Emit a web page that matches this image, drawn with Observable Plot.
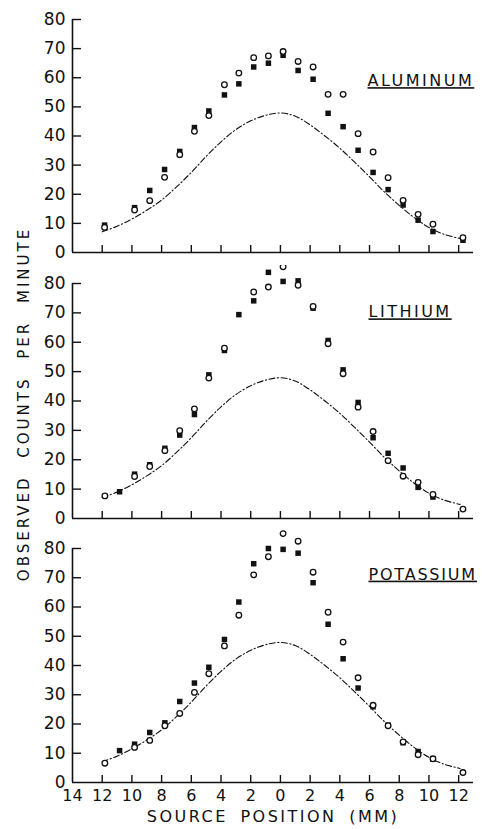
<!DOCTYPE html>
<html>
<head>
<meta charset="utf-8">
<script src="https://cdn.jsdelivr.net/npm/d3@7"></script>
<script src="https://cdn.jsdelivr.net/npm/@observablehq/plot@0.6"></script>
<style>
html, body { margin: 0; padding: 0; background: #fff; }
#wrap { position: relative; width: 482px; height: 829px; overflow: hidden; }
#wrap svg { display: block; }
#ytitle {
  position: absolute; left: 24px; top: 404px;
  transform: translate(-50%, -50%) rotate(-90deg);
  white-space: nowrap; font-family: "DejaVu Sans", sans-serif; font-size: 15px;
  letter-spacing: 3px; word-spacing: 10px; color: #111;
}
</style>
</head>
<body>
<div id="wrap"><div id="ytitle">OBSERVED COUNTS PER MINUTE</div></div>
<script>
// ---- data ----
const xTicks = [-14, -12, -10, -8, -6, -4, -2, 0, 2, 4, 6, 8, 10, 12];
const yTicks = [0, 10, 20, 30, 40, 50, 60, 70, 80];
const panelNames = ["ALUMINUM", "LITHIUM", "POTASSIUM"];
const xTitle = "SOURCE POSITION (MM)";

// dash-dot reference curve (same in all panels)
const curveX = [-12.0, -11, -10, -9, -8, -7, -6, -5, -4, -3, -2, -1, 0, 1, 2, 3, 4, 5, 6, 7, 8, 9, 10, 11, 12.1];
const curveY = [7.1, 9.0, 11.5, 14.5, 18.0, 22.5, 27.5, 33.0, 38.0, 42.2, 45.2, 47.1, 47.9, 46.8, 43.8, 40.0, 35.8, 31.0, 26.0, 20.8, 16.2, 12.0, 8.6, 6.3, 4.8];

// Aluminum
const alPos = [-11.84, -9.82, -8.8, -7.8, -6.78, -5.79, -4.82, -3.77, -2.8, -1.8, -0.81, 0.18, 1.19, 2.2, 3.21, 4.22, 5.23, 6.24, 7.25, 8.26, 9.27, 10.27, 12.29];
const alSquares = [9.4, 15.4, 21.3, 28.5, 34.7, 42.9, 48.6, 54.1, 57.9, 63.7, 65.0, 67.7, 62.5, 59.5, 47.8, 43.2, 35.1, 27.5, 21.6, 16.3, 11.1, 7.2, 4.2];
const alCircles = [8.6, 14.6, 17.8, 25.8, 33.6, 41.6, 47.0, 57.6, 61.6, 66.9, 67.5, 69.0, 65.6, 63.7, 54.3, 54.3, 40.8, 34.5, 25.7, 17.9, 13.1, 9.7, 5.1];

// Lithium
const liPos = [-11.82, -10.83, -9.82, -8.8, -7.78, -6.78, -5.79, -4.82, -3.77, -2.8, -1.8, -0.81, 0.18, 1.19, 2.2, 3.21, 4.22, 5.23, 6.24, 7.25, 8.26, 9.27, 10.27, 12.29];
const liSquares = [null, 9.1, 15.1, 18.3, 23.9, 28.4, 35.4, 48.9, 57.2, 69.4, 74.1, 83.8, 80.7, 80.9, 71.6, 60.6, 50.6, 39.5, 27.5, 22.2, 17.2, 10.6, 7.3, null];
const liCircles = [7.7, null, 14.3, 17.7, 23.1, 29.9, 37.3, 47.8, 58.0, null, 77.1, 78.8, 85.7, 79.4, 72.2, 59.5, 49.3, 37.9, 29.6, 19.7, 14.4, 12.3, 8.2, 3.2];

// Potassium
const kPos = [-11.82, -10.83, -9.82, -8.8, -7.78, -6.78, -5.79, -4.82, -3.77, -2.8, -1.8, -0.81, 0.18, 1.19, 2.2, 3.21, 4.22, 5.23, 6.24, 7.25, 8.26, 9.27, 10.27, 12.29];
const kSquares = [null, 10.9, 13.1, 17.1, 20.4, 27.7, 34.0, 39.4, 48.9, 61.7, 74.8, 80.0, 79.7, 78.4, 68.3, 54.1, 42.3, 32.3, 25.9, 19.6, 13.6, 10.6, 8.0, null];
const kCircles = [6.6, null, 12.0, 14.4, 19.4, 23.6, 30.8, 37.2, 46.7, 57.2, 71.0, 77.2, 85.1, 82.5, 71.9, 58.2, 48.0, 35.8, 26.4, 19.4, 13.9, 9.5, 8.1, 3.4];

// ---- drawing ----
const ink = "#111";
const curveRows = curveX.map((x, i) => ({x, y: curveY[i]}));
const rows = (pos, vals) => pos.map((x, i) => ({x, y: vals[i]})).filter(d => d.y != null);

function panel(name, pos, sq, ci, o) {
  const marks = [
    Plot.ruleY([0], {stroke: ink, strokeWidth: 1.6}),
    Plot.ruleX([-14], {y1: 0, y2: 80, stroke: ink, strokeWidth: 1.6}),
    Plot.ruleX(xTicks.filter(d => d > -14), {x: d => d, y1: 0, y2: 0, insetTop: -7, stroke: ink, strokeWidth: 1.4}),
    Plot.ruleY(yTicks.filter(d => d > 0), {y: d => d, x1: -14, x2: -14, insetRight: -9, stroke: ink, strokeWidth: 1.4}),
    Plot.axisY(yTicks, {tickSize: 0, tickPadding: 7, fontSize: 17, label: null}),
    Plot.line(curveRows, {x: "x", y: "y", curve: "catmull-rom", stroke: ink, strokeWidth: 1.1, strokeDasharray: "6,2.5,1.2,2.5"}),
    Plot.dot(rows(pos, sq), {x: "x", y: "y", symbol: "square", r: 3.1, fill: ink, stroke: "none"}),
    Plot.dot(rows(pos, ci), {x: "x", y: "y", r: 2.8, fill: "white", stroke: ink, strokeWidth: 1.3}),
    Plot.text([name], {text: d => d, frameAnchor: "top-left", textAnchor: "start", lineAnchor: "middle", dx: o.ldx, dy: o.ldy, fontSize: 16, fill: ink})
  ];
  if (o.xlabels) {
    marks.push(Plot.axisX(xTicks, {tickSize: 0, tickPadding: 7, tickFormat: d => Math.abs(d), fontSize: 16, label: null}));
    marks.push(Plot.text([xTitle], {text: d => d, frameAnchor: "bottom", dy: 39, fontSize: 16, fill: ink}));
  }
  const svg = Plot.plot({
    width: 482, height: o.height,
    marginLeft: 72, marginRight: 9, marginTop: o.mt, marginBottom: o.mb,
    x: o.xlabels ? {domain: [-14, 13]} : {domain: [-14, 13], axis: null},
    y: {domain: [0, 80]},
    style: {fontFamily: "DejaVu Sans, sans-serif", fontSize: "16px", color: ink, background: "white"},
    marks
  });
  d3.select(svg).selectAll("text").each(function() {
    const t = this.textContent;
    if (panelNames.includes(t)) {
      this.style.textDecoration = "underline";
      this.style.textDecorationThickness = "1.5px";
      this.style.textUnderlineOffset = "3px";
      this.style.letterSpacing = o.ls + "px";
    } else if (t === xTitle) {
      this.style.letterSpacing = "2.5px";
      this.style.wordSpacing = "5px";
    }
  });
  return svg;
}

const wrap = document.getElementById("wrap");
wrap.appendChild(panel(panelNames[0], alPos, alSquares, alCircles, {height: 265, mt: 19, mb: 13, ldx: 295, ldy: 61.5, ls: 2.5}));
wrap.appendChild(panel(panelNames[1], liPos, liSquares, liCircles, {height: 265, mt: 18, mb: 12, ldx: 296, ldy: 28.7, ls: 2.5}));
wrap.appendChild(panel(panelNames[2], kPos, kSquares, kCircles, {height: 299, mt: 18, mb: 47, ldx: 296, ldy: 26, ls: 1.8, xlabels: true}));
</script>
</body>
</html>
